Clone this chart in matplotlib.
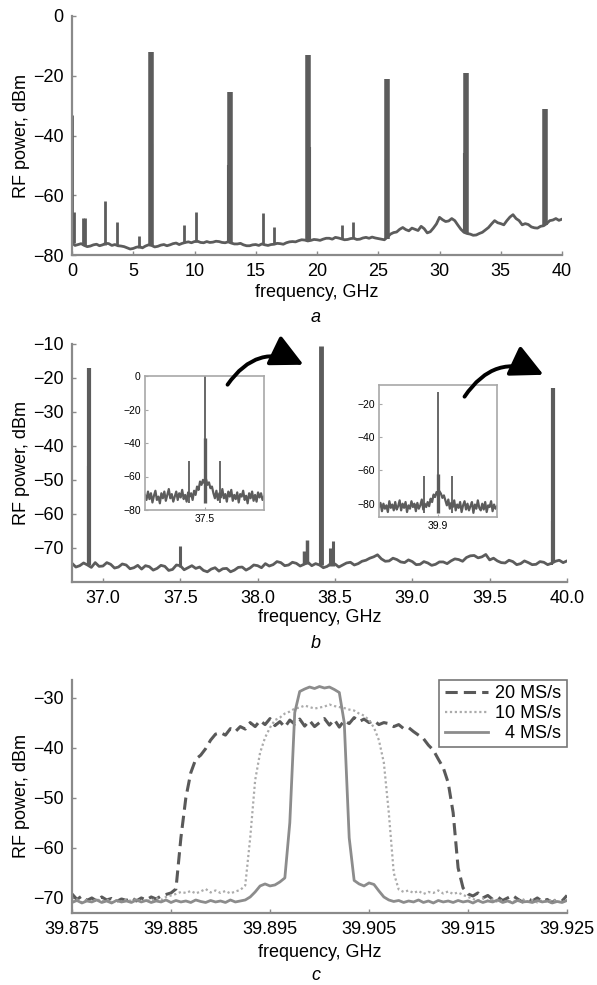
import numpy as np
import matplotlib
matplotlib.use("Agg")
import matplotlib.pyplot as plt
from matplotlib.patches import FancyArrowPatch

plt.rcParams['font.family'] = ['Liberation Sans', 'DejaVu Sans']

W, H = 597, 985

# ---------------- panel a: 0-40 GHz span ----------------
a_floor = [-76.0, -76.8, -76.5, -76.2, -76.8, -77.2, -77.0, -76.6, -76.4, -76.9,
           -76.6, -76.1, -76.2, -76.8, -76.5, -76.9, -77.0, -77.2, -77.6, -78.0,
           -77.8, -77.4, -77.2, -77.6, -77.0, -76.6, -76.8, -77.3, -77.1, -76.7,
           -76.5, -76.9, -76.6, -76.2, -76.0, -76.5, -76.1, -75.8, -75.6, -75.9,
           -75.5, -75.4, -75.8, -75.9, -75.5, -75.8, -75.7, -75.4, -75.5, -75.8,
           -75.9, -75.6, -76.0, -76.3, -76.3, -76.1, -76.6, -76.9, -76.9, -76.6,
           -76.5, -76.8, -76.3, -76.6, -76.8, -76.5, -76.4, -76.1, -76.2, -76.4,
           -75.9, -75.6, -75.5, -75.6, -75.2, -74.9, -75.0, -75.3, -75.1, -74.8,
           -74.9, -75.1, -74.7, -74.4, -74.4, -74.7, -74.1, -74.3, -74.6, -74.9,
           -74.8, -74.5, -74.4, -74.8, -74.7, -74.3, -74.1, -74.4, -74.0, -74.3,
           -74.5, -74.7, -74.9, -74.0, -73.0, -72.5, -72.3, -71.4, -70.8, -71.5,
           -71.9, -71.0, -71.4, -71.8, -70.4, -71.2, -72.6, -72.2, -71.0, -69.6,
           -67.4, -68.2, -68.8, -68.6, -67.8, -68.5, -70.0, -71.4, -72.4, -72.8,
           -73.0, -73.4, -73.3, -72.8, -72.4, -71.6, -70.8, -69.6, -68.5, -69.2,
           -69.5, -69.9, -68.5, -67.3, -66.5, -67.8, -68.5, -69.9, -69.5, -69.8,
           -70.6, -70.9, -71.0, -70.4, -70.2, -69.5, -68.5, -68.3, -67.8, -68.4,
           -68.0]
a_freq = np.linspace(0, 40, len(a_floor))
# harmonics of the 6.43 GHz comb
a_main_f = [6.43, 12.86, 19.29, 25.72, 32.15, 38.58]
a_main_top = [-12, -25.5, -13, -21, -19, -31]
a_main_foot = [-77, -76, -75, -74.5, -72.5, -70]
a_main_sh_f = [6.55, 12.74, 19.41, 25.60, 32.03, 38.70]
a_main_sh = [-43, -50, -44, -48, -46, -51]
a_minor_f = [0.02, 0.15, 0.88, 1.08, 2.72, 3.67, 5.50, 9.15, 10.10, 15.58, 16.53, 22.00, 22.96]
a_minor_top = [-33, -65.5, -67.5, -67.5, -62, -69, -73.5, -70, -65.5, -66, -70.5, -70, -69]
a_minor_foot = [-76, -76, -76.8, -76.8, -76.5, -76.5, -77.5, -76, -75.5, -76.3, -76.4, -74.6, -74.4]

# ---------------- panel b: 36.8-40 GHz ----------------
b_floor = [-74.5, -75.6, -75.2, -74.4, -75.0, -75.7, -74.3, -75.4, -75.3, -74.3,
           -74.8, -75.9, -75.6, -74.7, -75.0, -76.1, -75.8, -75.1, -76.2, -75.2,
           -75.5, -76.5, -76.0, -75.1, -75.4, -76.6, -76.3, -75.0, -75.2, -76.4,
           -75.8, -75.2, -76.0, -75.6, -76.6, -77.0, -76.2, -75.8, -76.8, -76.1,
           -76.0, -77.0, -76.5, -75.7, -75.6, -76.5, -75.9, -75.0, -75.2, -75.8,
           -74.6, -75.3, -74.9, -74.0, -74.3, -75.2, -75.0, -74.2, -74.5, -75.3,
           -74.8, -74.2, -75.2, -74.6, -75.0, -75.8, -75.4, -74.5, -74.7, -75.6,
           -75.0, -74.4, -74.2, -75.0, -74.6, -73.9, -73.6, -73.0, -72.6, -72.0,
           -73.2, -73.9, -73.8, -73.0, -73.4, -74.1, -74.3, -73.5, -74.0, -74.9,
           -74.8, -74.0, -74.4, -75.1, -74.8, -74.1, -74.1, -74.6, -73.8, -73.2,
           -73.4, -73.9, -72.8, -72.3, -72.2, -72.9, -72.6, -71.9, -73.5, -73.0,
           -73.8, -74.3, -74.4, -73.6, -74.0, -74.9, -74.6, -73.8, -74.3, -74.9,
           -74.8, -74.0, -74.2, -74.9, -74.5, -73.9, -73.6, -74.3, -73.8]
b_freq = np.linspace(36.8, 40.0, len(b_floor))
b_peak_f = [36.91, 37.50, 38.30, 38.32, 38.41, 38.47, 38.485, 39.91]
b_peak_top = [-17, -69.5, -71, -67.5, -10.5, -70, -68, -23]
b_peak_foot = [-75, -75.5, -74.8, -74.8, -75, -75.2, -75.2, -74.5]
b_peak_lw = [3.0, 2.2, 2.5, 2.5, 3.5, 2.2, 2.2, 3.0]
b_sh_f = [36.905, 38.40, 39.905]
b_sh = [-46, -44, -62]

# insets (zoom on the 37.5 GHz and 39.9 GHz lines)
in1_floor = [-71, -74, -69, -73.5, -70, -75.5, -71.5, -68.5, -74, -72,
             -76, -70, -73, -69, -74.5, -71, -67.5, -73, -70.5, -75,
             -72, -69, -74, -70, -72.5, -68, -73.5, -71, -75, -69.5,
             -72, -70, -74, -68.5, -71, -66, -68, -63, -65, -62,
             -64, -61.5, -65, -63.5, -67, -66, -70, -73, -68.5, -74,
             -70, -72.5, -67.5, -73, -70.5, -75, -69, -72, -68, -74.5,
             -71, -73.5, -69.5, -75.5, -70.5, -72, -68.5, -74, -71.5, -76,
             -70, -73, -69, -74.5, -71, -75, -69.5, -72.5, -70, -74, -72]
in1_freq = np.linspace(37.49, 37.51, len(in1_floor))
in1_peak_f = [37.4974, 37.5, 37.5026]
in1_peak_top = [-51, 0, -51]
in1_sh = -37
in2_floor = [-82, -79.5, -84.5, -80, -83, -81, -85, -78.5, -82.5, -80.5,
             -84, -79, -83.5, -81.5, -78, -84, -80, -82.5, -79, -85,
             -81, -83, -78.5, -82, -80, -84.5, -79.5, -83, -81, -77.5,
             -83.5, -80, -82, -79, -81.5, -77, -79, -74.5, -76, -73,
             -75, -72.5, -74, -76.5, -75, -78, -81, -77.5, -83, -79.5,
             -82, -78, -84, -80.5, -82.5, -79, -85, -81, -78.5, -83.5,
             -80, -84, -81.5, -79, -85.5, -80.5, -83, -78, -82.5, -84,
             -80, -83.5, -79, -85, -81, -82, -78.5, -84.5, -80.5, -83, -81.5]
in2_freq = np.linspace(39.89, 39.91, len(in2_floor))
in2_peak_f = [39.8976, 39.9, 39.9024]
in2_peak_top = [-63.5, -13, -63.5]
in2_sh = -62

# ---------------- panel c: modulated carrier ----------------
c_20ms = [-69.2, -70.3, -69.6, -70.5, -70.0, -70.6, -69.8, -70.4, -70.1, -70.7,
          -70.2, -70.5, -69.9, -70.6, -70.0, -70.4, -69.8, -70.2, -69.6, -69.3,
          -69.0, -68.2, -58.0, -50.0, -45.0, -42.3, -41.5, -40.2, -38.5, -37.3,
          -37.0, -37.5, -36.2, -36.8, -35.8, -36.3, -35.0, -35.8, -34.6, -35.4,
          -34.2, -35.6, -34.8, -35.9, -34.5, -35.3, -34.3, -35.7, -34.6, -35.8,
          -35.0, -34.2, -35.5, -34.4, -35.9, -34.6, -35.2, -34.0, -34.8, -34.3,
          -35.0, -34.6, -35.4, -35.0, -35.2, -35.8, -35.4, -36.2, -36.0, -36.8,
          -37.5, -38.2, -39.5, -40.5, -42.3, -44.0, -47.0, -53.0, -64.0, -68.0,
          -69.2, -69.6, -69.0, -70.0, -69.5, -70.3, -69.8, -70.5, -70.0, -69.5,
          -70.2, -70.8, -70.1, -70.6, -70.0, -70.7, -70.3, -70.9, -70.2, -70.6, -69.5]
c_10ms = [-70.8, -70.3, -70.9, -70.4, -70.8, -70.2, -70.7, -70.3, -70.9, -70.5,
          -70.8, -70.3, -70.6, -70.2, -70.7, -70.4, -70.6, -70.0, -70.4, -69.8,
          -69.5, -69.2, -68.8, -69.0, -68.6, -69.1, -68.7, -68.2, -68.9, -68.5,
          -69.0, -68.6, -69.1, -68.7, -68.4, -67.5, -58.0, -46.5, -41.0, -38.0,
          -36.0, -34.5, -34.0, -33.2, -32.8, -32.2, -32.0, -31.6, -31.9, -32.2,
          -32.0, -31.8, -31.4, -31.7, -31.9, -32.1, -32.4, -32.6, -33.2, -33.6,
          -34.5, -36.0, -38.5, -43.0, -53.0, -65.0, -68.3, -68.8, -68.5, -69.0,
          -68.6, -69.2, -68.8, -69.0, -68.5, -69.1, -68.7, -69.2, -68.9, -69.4,
          -69.8, -70.2, -70.5, -70.1, -70.6, -70.3, -70.8, -70.4, -70.9, -70.5,
          -70.7, -70.2, -70.8, -70.4, -70.9, -70.5, -70.8, -70.3, -70.7, -70.9, -70.4]
c_4ms = [-70.9, -70.5, -71.0, -70.6, -70.8, -70.4, -70.9, -70.6, -71.0, -70.5,
         -70.8, -70.6, -70.9, -70.4, -70.8, -70.5, -70.9, -70.6, -70.8, -70.4,
         -70.9, -70.5, -70.8, -70.6, -70.9, -70.4, -70.7, -70.9, -70.5, -70.8,
         -70.6, -70.9, -70.4, -70.8, -70.6, -70.4, -69.8, -68.8, -67.6, -67.2,
         -67.6, -67.4, -66.8, -66.0, -55.0, -33.0, -28.8, -28.3, -27.9, -28.2,
         -27.8, -28.1, -27.9, -28.4, -29.0, -35.0, -58.0, -66.5, -67.2, -67.6,
         -67.0, -67.3, -68.6, -69.8, -70.4, -70.7, -70.5, -70.9, -70.6, -70.8,
         -70.4, -70.9, -70.6, -71.0, -70.5, -70.8, -70.6, -70.9, -70.5, -70.8,
         -70.6, -71.0, -70.5, -70.9, -70.6, -70.8, -70.4, -70.9, -70.6, -71.0,
         -70.5, -70.8, -70.7, -70.9, -70.5, -70.8, -70.6, -71.0, -70.7, -70.9, -70.5]
c_offset_mhz = np.linspace(-25, 25, len(c_20ms))
c_labels = ['20 MS/s', '10 MS/s', '  4 MS/s']

TRACE = '#5c5c5c'
SPINE = '#8a8a8a'
FS = 13


def px_axes(fig, left, top, right, bottom):
    return fig.add_axes([left / W, 1 - bottom / H, (right - left) / W, (bottom - top) / H])


def style(ax):
    for s in ['top', 'right']:
        ax.spines[s].set_visible(False)
    for s in ['left', 'bottom']:
        ax.spines[s].set_color(SPINE)
        ax.spines[s].set_linewidth(1.6)
    ax.tick_params(direction='in', length=3, width=1, color=SPINE,
                   labelsize=FS, pad=6)


fig = plt.figure(figsize=(W / 100, H / 100), dpi=100)

# panel a
ax = px_axes(fig, 72, 16, 562, 255)
ax.plot(a_freq, a_floor, color=TRACE, lw=2)
ax.vlines(a_main_f, a_main_foot, a_main_top, color=TRACE, lw=4)
ax.vlines(a_main_sh_f, a_main_foot, a_main_sh, color=TRACE, lw=1.5)
ax.vlines(a_minor_f, a_minor_foot, a_minor_top, color=TRACE, lw=2)
ax.set_xlim(0, 40)
ax.set_ylim(-80, 0)
ax.set_xticks(range(0, 41, 5))
ax.set_yticks(range(-80, 1, 20))
style(ax)
ax.set_xlabel('frequency, GHz', fontsize=FS)
ax.xaxis.set_label_coords(0.5, -0.12)
ax.set_ylabel('RF power, dBm', fontsize=FS)
ax.yaxis.set_label_coords(-0.085, 0.5)
fig.text(316 / W, 1 - 318 / H, 'a', fontsize=FS, style='italic', ha='center', va='center')

# panel b
ax = px_axes(fig, 72, 344, 567, 582)
ax.plot(b_freq, b_floor, color=TRACE, lw=2)
for f, top, foot, lw in zip(b_peak_f, b_peak_top, b_peak_foot, b_peak_lw):
    ax.vlines(f, foot, top, color=TRACE, lw=lw)
ax.vlines(b_sh_f, -75, b_sh, color=TRACE, lw=1.5)
ax.set_xlim(36.8, 40.0)
ax.set_ylim(-80, -10)
ax.set_xticks(np.arange(37.0, 40.01, 0.5))
ax.set_xticklabels(['%.1f' % v for v in np.arange(37.0, 40.01, 0.5)])
ax.set_yticks(range(-70, -9, 10))
style(ax)
ax.set_xlabel('frequency, GHz', fontsize=FS)
ax.xaxis.set_label_coords(0.5, -0.115)
ax.set_ylabel('RF power, dBm', fontsize=FS)
ax.yaxis.set_label_coords(-0.085, 0.5)
fig.text(316 / W, 1 - 643 / H, 'b', fontsize=FS, style='italic', ha='center', va='center')


def inset(left, top, right, bottom, xs, ys, pf, ptop, sh, center, ylim, yticks):
    ia = px_axes(fig, left, top, right, bottom)
    ia.plot(xs, ys, color=TRACE, lw=1.6)
    ia.vlines(pf, [min(ys)] * len(pf), ptop, color=TRACE, lw=1.3)
    ia.vlines(center, min(ys), sh, color=TRACE, lw=2.4)
    ia.set_xlim(xs[0], xs[-1])
    ia.set_ylim(*ylim)
    ia.set_xticks([center])
    ia.set_xticklabels(['%.1f' % center])
    ia.set_yticks(yticks)
    for s in ia.spines.values():
        s.set_color('#a8a8a8')
        s.set_linewidth(1.2)
    ia.tick_params(direction='in', length=2, width=0.8, color='#a8a8a8',
                   labelsize=7.5, pad=3)
    return ia


inset(145, 376, 264, 510, in1_freq, in1_floor, in1_peak_f, in1_peak_top, in1_sh,
      37.5, (-80, 0), [-80, -60, -40, -20, 0])
inset(379, 385, 497, 517, in2_freq, in2_floor, in2_peak_f, in2_peak_top, in2_sh,
      39.9, (-88, -8.6), [-80, -60, -40, -20])

for (x0, y0), (x1, y1) in [((226, 387), (306, 366)), ((463, 399), (546, 376))]:
    arr = FancyArrowPatch((x0 / W, 1 - y0 / H), (x1 / W, 1 - y1 / H),
                          transform=fig.transFigure, connectionstyle='arc3,rad=-0.45',
                          arrowstyle='-|>,head_length=0.9,head_width=0.45',
                          mutation_scale=22, lw=2.8, color='black')
    fig.add_artist(arr)

# panel c
ax = px_axes(fig, 72, 680, 567, 913)
c_freq = 39.9 + c_offset_mhz / 1000
ax.plot(c_freq, c_20ms, color='#595959', lw=2.2, ls=(0, (4, 2)), label=c_labels[0])
ax.plot(c_freq, c_10ms, color='#ababab', lw=1.6, ls=(0, (1, 1.2)), label=c_labels[1])
ax.plot(c_freq, c_4ms, color='#8c8c8c', lw=2.0, label=c_labels[2])
ax.set_xlim(39.875, 39.925)
ax.set_ylim(-73, -26.5)
ax.set_xticks(np.arange(39.875, 39.9251, 0.01))
ax.set_xticklabels(['%.3f' % v for v in np.arange(39.875, 39.9251, 0.01)])
ax.set_yticks(range(-70, -29, 10))
style(ax)
leg = ax.legend(loc='upper right', fontsize=FS, frameon=True, fancybox=False,
                handlelength=2.4, handletextpad=0.4, labelspacing=0.15,
                borderpad=0.3, borderaxespad=0.0)
leg.get_frame().set_edgecolor('#555555')
leg.get_frame().set_linewidth(1.2)
ax.set_xlabel('frequency, GHz', fontsize=FS)
ax.xaxis.set_label_coords(0.5, -0.135)
ax.set_ylabel('RF power, dBm', fontsize=FS)
ax.yaxis.set_label_coords(-0.085, 0.5)
fig.text(316 / W, 1 - 975 / H, 'c', fontsize=FS, style='italic', ha='center', va='center')

fig.savefig('out.png', dpi=100)
